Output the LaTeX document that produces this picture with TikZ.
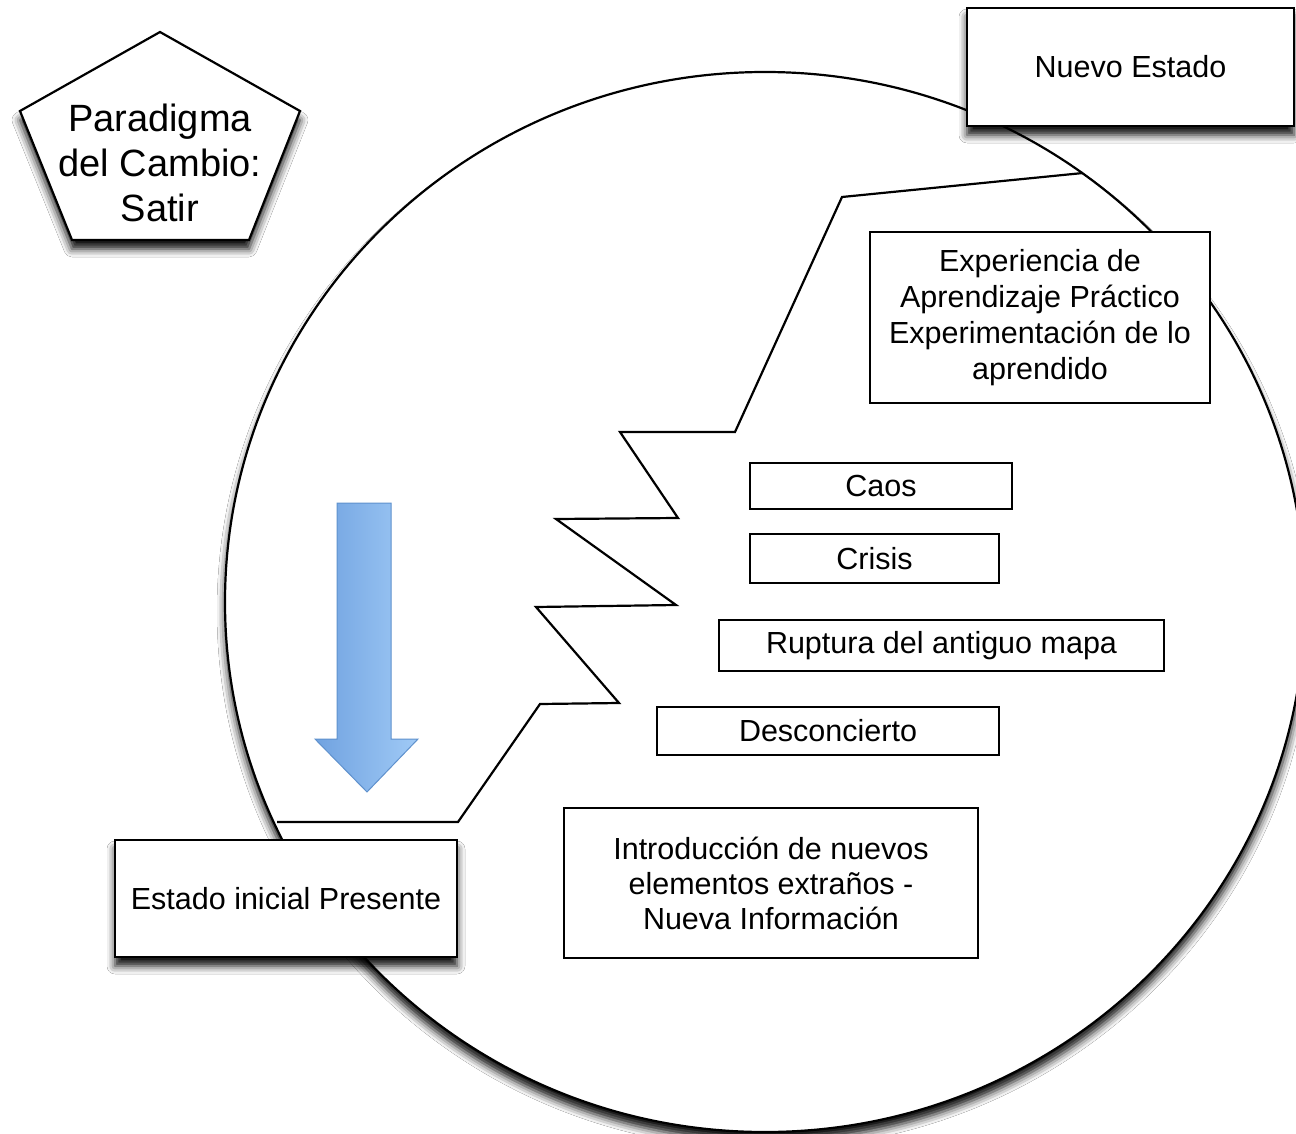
\documentclass[tikz,border=0pt]{standalone}
\usepackage{fontspec}
\setmainfont{Liberation Sans}
\usetikzlibrary{shadows.blur}
\definecolor{arrowL}{RGB}{112,162,224}
\definecolor{arrowR}{RGB}{160,202,246}
\definecolor{arrowB}{RGB}{95,145,205}
\begin{document}
\begin{tikzpicture}[x=1pt,y=-1pt,
  box/.style={draw=black, line width=2.2pt, fill=white, inner sep=0pt, align=center,
    font=\fontsize{30.5}{36}\selectfont},
  shad/.style={blur shadow={shadow xshift=0pt, shadow yshift=-9pt, shadow blur radius=8pt, shadow opacity=95}},
  edgeline/.style={draw=black, line width=2.2pt}]
\useasboundingbox (0,0) rectangle (1296,1134);
\fill[white] (0,0) rectangle (1296,1134);

% big circle
\path[edgeline, fill=white, shad] (765,602) ellipse [x radius=540, y radius=530];

% zigzag
\coordinate (z0) at (277,822);
\coordinate (z11) at (1083,173);
\draw[edgeline] (z0) -- (458,822) -- (540,704) -- (619,703) -- (536,607) -- (676,605)
  -- (556,519) -- (678,518) -- (620,432) -- (735,432) -- (842,197) -- (z11);

% blue arrow
\path[draw=arrowB, line width=1pt, left color=arrowL, right color=arrowR]
  (337,503) -- (391,503) -- (391,739) -- (418,739) -- (367,792) -- (315,739) -- (337,739) -- cycle;

% boxes
\node[box, shad, minimum width=327pt, minimum height=118pt] (nuevo) at (1130.5,67) {Nuevo Estado};
\node[box, minimum width=340pt, minimum height=171pt] (exper) at (1040,317.5)
  {Experiencia de\\Aprendizaje Práctico\\Experimentación de lo\\aprendido};
\node[box, minimum width=262pt, minimum height=46pt] (caos) at (881,486) {Caos};
\node[box, minimum width=249pt, minimum height=49pt] (crisis) at (874.5,558.5) {Crisis};
\node[box, minimum width=445pt, minimum height=51pt] (ruptura) at (941.5,645.5) {Ruptura del antiguo mapa};
\node[box, minimum width=342pt, minimum height=48pt] (descon) at (828,731) {Desconcierto};
\node[box, minimum width=414pt, minimum height=150pt, font=\fontsize{30.5}{35}\selectfont] (intro) at (771,883)
  {Introducción de nuevos\\elementos extraños -\\Nueva Información};
\node[box, shad, minimum width=342pt, minimum height=117pt] (inicial) at (286,898.5) {Estado inicial Presente};

% pentagon
\path[edgeline, fill=white, shad, line join=miter] (160,32) -- (300,111) -- (249,240) -- (72,240) -- (20,111) -- cycle;
\node[align=center, inner sep=0pt, font=\fontsize{38}{45}\selectfont] (penta) at (160,163)
  {Paradigma\\del Cambio:\\Satir};
\end{tikzpicture}
\end{document}
